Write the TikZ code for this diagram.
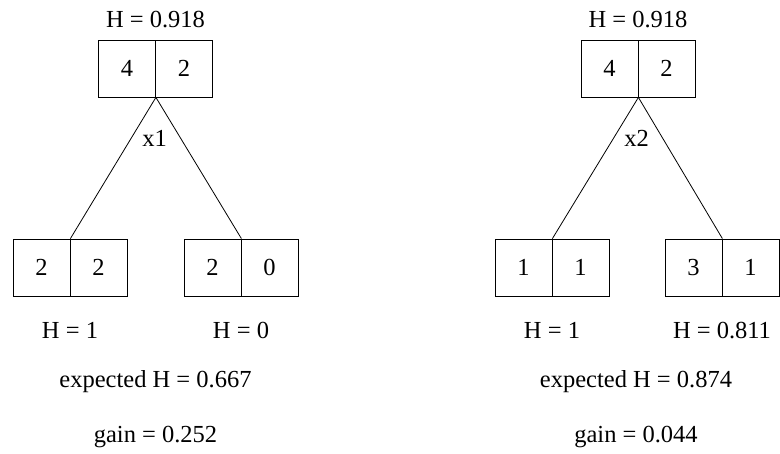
\documentclass[tikz,border=0pt]{standalone}
\usepackage{fontspec}
\setmainfont{Liberation Serif}
\begin{document}
\begin{tikzpicture}[x=1pt,y=-1pt,
  cell/.style={draw,line width=0.8pt,minimum width=57pt,minimum height=57pt,inner sep=0pt,font=\fontsize{24.5}{26}\selectfont},
  lbl/.style={anchor=base,inner sep=0pt,font=\fontsize{24.5}{26}\selectfont},
  edge/.style={line width=0.8pt}]
\useasboundingbox (0,0) rectangle (780,453);
% left tree
\node[cell] (La) at (127,68.5) {4};
\node[cell] (Lb) at (184,68.5) {2};
\node[cell] (LLa) at (41.5,267.5) {2};
\node[cell] (LLb) at (98.5,267.5) {2};
\node[cell] (LRa) at (212.5,267.5) {2};
\node[cell] (LRb) at (269.5,267.5) {0};
\draw[edge] (La.south east) -- (LLa.north east);
\draw[edge] (La.south east) -- (LRa.north east);
\node[lbl] (Lh) at (155.5,27) {H = 0.918};
\node[lbl] (Lx) at (154.5,146.5) {x1};
\node[lbl] (LLh) at (70,338) {H = 1};
\node[lbl] (LRh) at (241,338) {H = 0};
\node[lbl] (Le) at (155.5,387) {expected H = 0.667};
\node[lbl] (Lg) at (155.5,442) {gain = 0.252};
% right tree
\node[cell] (Ra) at (609.5,68.5) {4};
\node[cell] (Rb) at (666.5,68.5) {2};
\node[cell] (RLa) at (523.5,267.5) {1};
\node[cell] (RLb) at (580.5,267.5) {1};
\node[cell] (RRa) at (693.5,267.5) {3};
\node[cell] (RRb) at (750.5,267.5) {1};
\draw[edge] (Ra.south east) -- (RLa.north east);
\draw[edge] (Ra.south east) -- (RRa.north east);
\node[lbl] (Rh) at (638,27) {H = 0.918};
\node[lbl] (Rx) at (636.5,146.5) {x2};
\node[lbl] (RLh) at (552,338) {H = 1};
\node[lbl] (RRh) at (722,338) {H = 0.811};
\node[lbl] (Re) at (636,387) {expected H = 0.874};
\node[lbl] (Rg) at (636,442) {gain = 0.044};
\end{tikzpicture}
\end{document}
